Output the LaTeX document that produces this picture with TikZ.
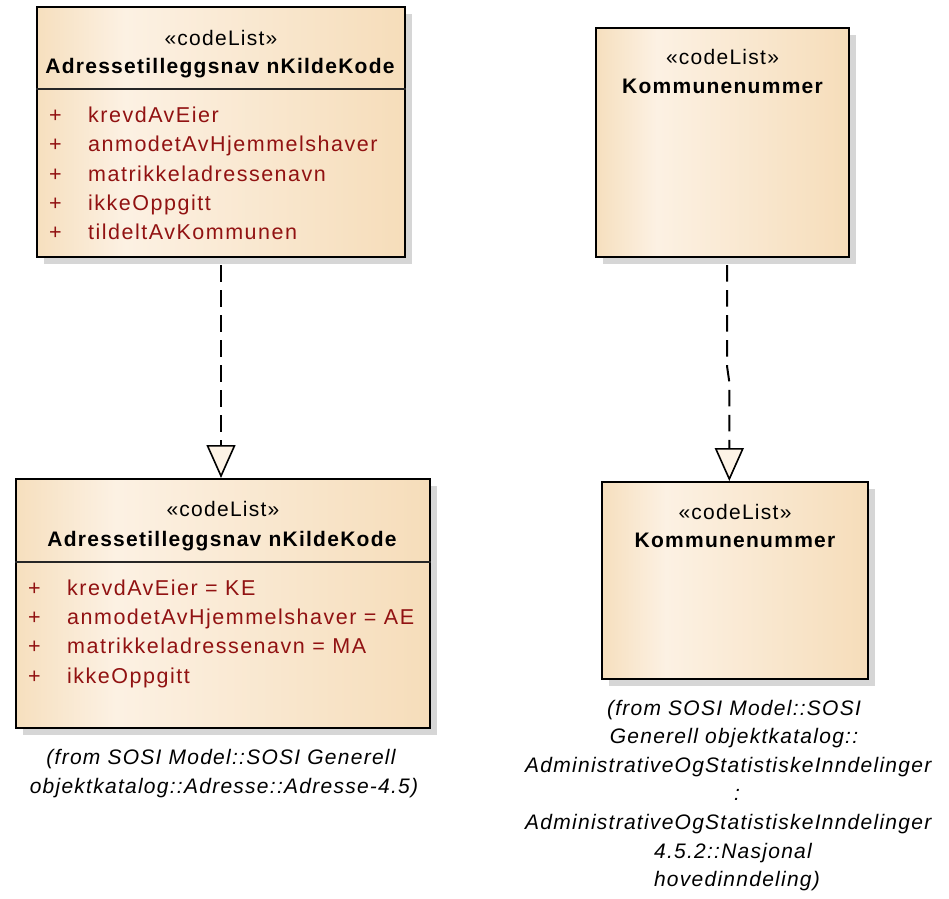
\documentclass[tikz,border=0pt]{standalone}
\usepackage{fontspec}
\setmainfont{Liberation Sans}[LetterSpace=6]
\newfontfamily\attrfont{Liberation Sans}[LetterSpace=7]
\usetikzlibrary{arrows.meta,shadows}
\definecolor{boxA}{RGB}{246,223,190}
\definecolor{boxB}{RGB}{252,241,227}
\definecolor{boxC}{RGB}{246,221,186}
\definecolor{shadowgray}{RGB}{214,214,214}
\definecolor{attrred}{RGB}{145,18,18}
\definecolor{tricream}{RGB}{253,243,230}
\pgfdeclarehorizontalshading{umlshade}{100bp}{color(0bp)=(boxA); color(25bp)=(boxA); color(37bp)=(boxB); color(75bp)=(boxC); color(100bp)=(boxC)}
\tikzset{
  umlbox/.style={draw=black, line width=2pt, shade, shading=umlshade, inner sep=0pt,
    general shadow={fill=shadowgray, shadow xshift=7pt, shadow yshift=-7pt}},
  sepline/.style={draw=black!85, line width=1.5pt},
  stereo/.style={font=\fontsize{21}{25}\selectfont, anchor=base, inner sep=0pt},
  cname/.style={font=\fontsize{21}{25}\selectfont\bfseries, anchor=base, inner sep=0pt},
  attr/.style={font=\attrfont\fontsize{21.5}{25}\selectfont, text=attrred, anchor=base west, inner sep=0pt},
  caption/.style={font=\fontsize{21}{25}\selectfont\itshape, anchor=base, inner sep=0pt},
  realize/.style={line width=2pt, dash pattern=on 16.5pt off 8.5pt,
    -{Triangle[length=33pt, width=29pt, fill=tricream, line width=1.6pt]}}
}
\begin{document}
\begin{tikzpicture}[x=1pt, y=-1pt]
\useasboundingbox (0,0) rectangle (949,898);
\fill[white] (0,0) rectangle (949,898);

% boxes
\node[umlbox, minimum width=368pt, minimum height=250pt] (b1) at (221,132) {};
\node[umlbox, minimum width=253pt, minimum height=229pt] (b2) at (722.5,142.5) {};
\node[umlbox, minimum width=414pt, minimum height=249pt] (b3) at (223,603.5) {};
\node[umlbox, minimum width=266pt, minimum height=197pt] (b4) at (735,580.5) {};

% separators
\draw[sepline] ([yshift=-83pt]b1.north west) -- ([yshift=-83pt]b1.north east);
\draw[sepline] ([yshift=-84pt]b3.north west) -- ([yshift=-84pt]b3.north east);

% box 1 texts
\node[stereo] (b1s) at (221,45) {«codeList»};
\node[cname] (b1n) at (220,73) {Adressetilleggsnav nKildeKode};
\node[attr] (b1p1) at (49,122.5) {+};
\node[attr] (b1a1) at (88,122.5) {krevdAvEier};
\node[attr] (b1p2) at (49,151.8) {+};
\node[attr] (b1a2) at (88,151.8) {anmodetAvHjemmelshaver};
\node[attr] (b1p3) at (49,181) {+};
\node[attr] (b1a3) at (88,181) {matrikkeladressenavn};
\node[attr] (b1p4) at (49,210.2) {+};
\node[attr] (b1a4) at (88,210.2) {ikkeOppgitt};
\node[attr] (b1p5) at (49,239.4) {+};
\node[attr] (b1a5) at (88,239.4) {tildeltAvKommunen};

% box 2 texts
\node[stereo] (b2s) at (722.5,64) {«codeList»};
\node[cname] (b2n) at (722.5,93) {Kommunenummer};

% box 3 texts
\node[stereo] (b3s) at (223,516) {«codeList»};
\node[cname] (b3n) at (222,546) {Adressetilleggsnav nKildeKode};
\node[attr] (b3p1) at (28,595) {+};
\node[attr] (b3a1) at (67,595) {krevdAvEier = KE};
\node[attr] (b3p2) at (28,624.3) {+};
\node[attr] (b3a2) at (67,624.3) {anmodetAvHjemmelshaver = AE};
\node[attr] (b3p3) at (28,653.6) {+};
\node[attr] (b3a3) at (67,653.6) {matrikkeladressenavn = MA};
\node[attr] (b3p4) at (28,683) {+};
\node[attr] (b3a4) at (67,683) {ikkeOppgitt};

\node[caption] (c1a) at (221,764) {(from SOSI Model::SOSI Generell};
\node[caption] (c1b) at (224,793) {objektkatalog::Adresse::Adresse-4.5)};

% box 4 texts
\node[stereo] (b4s) at (735,519.5) {«codeList»};
\node[cname] (b4n) at (735,547.5) {Kommunenummer};

\node[caption] (c2a) at (734,715) {(from SOSI Model::SOSI};
\node[caption] (c2b) at (734,743.6) {Generell objektkatalog::};
\node[caption, anchor=base west] (c2c) at (525,772.2) {AdministrativeOgStatistiskeInndelinger};
\node[caption] (c2d) at (737,800.8) {:};
\node[caption, anchor=base west] (c2e) at (525,829.4) {AdministrativeOgStatistiskeInndelinger};
\node[caption] (c2f) at (733,858) {4.5.2::Nasjonal};
\node[caption] (c2g) at (737,886.6) {hovedinndeling)};

% connectors
\draw[realize] ([yshift=-7pt]b1.south) -- (b1.south |- b3.north);
\coordinate (k1) at (727,366);
\coordinate (k2) at (729.3,382);
\draw[realize] ([xshift=4.5pt,yshift=-7pt]b2.south) -- (k1) -- (k2) -- ([xshift=-5.7pt]b4.north);
\end{tikzpicture}
\end{document}
